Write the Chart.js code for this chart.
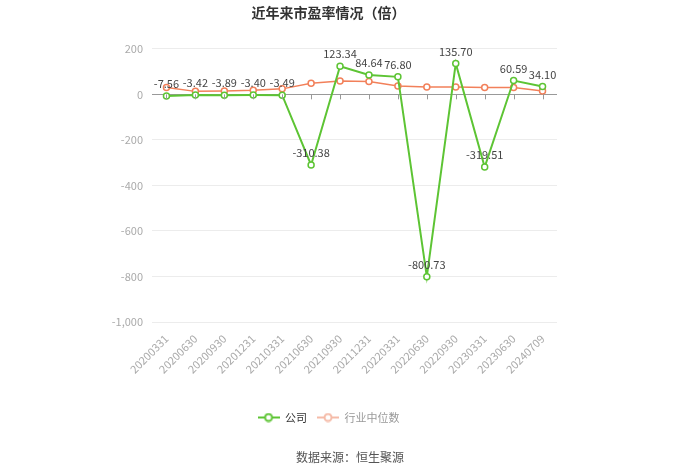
<!DOCTYPE html>
<html>
<head>
<meta charset="utf-8">
<script src="https://cdn.jsdelivr.net/npm/chart.js@4/dist/chart.umd.min.js"></script>
<style>
html,body{margin:0;padding:0;background:#fff;}
#wrap{width:700px;height:474px;}
</style>
</head>
<body>
<div id="wrap"><canvas id="c" width="700" height="474"></canvas></div>
<script>
const categories = ['20200331','20200630','20200930','20201231','20210331','20210630','20210930','20211231','20220331','20220630','20220930','20230331','20230630','20240709'];
const companyPE = [-7.56,-3.42,-3.89,-3.40,-3.49,-310.38,123.34,84.64,76.80,-800.73,135.70,-319.51,60.59,34.10];
const industryPE = [30,13,15,18,24,49,59,56,37,32,32,30,30,15];
const yTicks = [200,0,-200,-400,-600,-800,-1000];

const FONT = '"Noto Sans CJK SC","Noto Sans",sans-serif';
const GREEN = '#5dc434';
const ORANGE = '#f2805a';

function legendIcon(color){
  const cv = document.createElement('canvas');
  cv.width = 22; cv.height = 10;
  const g = cv.getContext('2d');
  g.strokeStyle = color; g.lineWidth = 2;
  g.beginPath(); g.moveTo(0,5); g.lineTo(22,5); g.stroke();
  g.fillStyle = '#fff';
  g.beginPath(); g.arc(11,5,3.5,0,Math.PI*2); g.fill(); g.stroke();
  return cv;
}
const iconA = legendIcon(GREEN);
const iconB = legendIcon('#f5bba8');

const extras = {
  id:'extras',
  afterDatasetsDraw(chart){
    const ctx = chart.ctx;
    const xs = chart.scales.x, ys = chart.scales.y;
    const y0 = ys.getPixelForValue(0);
    ctx.save();
    ctx.strokeStyle = '#999'; ctx.lineWidth = 1;
    for(let i=0;i<categories.length;i++){
      const x = Math.round(xs.getPixelForValue(i))+0.5;
      ctx.beginPath(); ctx.moveTo(x,y0); ctx.lineTo(x,y0+5); ctx.stroke();
    }
    const meta = chart.getDatasetMeta(0);
    ctx.font = '11px '+FONT;
    ctx.fillStyle = '#444';
    ctx.textAlign = 'center'; ctx.textBaseline = 'middle';
    meta.data.forEach((p,i)=>{
      ctx.fillText(companyPE[i].toFixed(2), p.x, p.y-12);
    });
    ctx.restore();
  },
  afterDraw(chart){
    const ctx = chart.ctx;
    ctx.save();
    ctx.font = '12px '+FONT;
    ctx.fillStyle = '#555';
    ctx.textAlign = 'center'; ctx.textBaseline = 'middle';
    ctx.fillText('数据来源：恒生聚源', 350, 457);
    ctx.restore();
  }
};

new Chart(document.getElementById('c'), {
  type:'line',
  data:{
    labels: categories,
    datasets:[
      {label:'公司', data: companyPE, borderColor: GREEN, backgroundColor:'#fff',
       borderWidth:2, pointRadius:3, pointBorderWidth:1.5, pointBackgroundColor:'#fff', pointBorderColor:GREEN, tension:0},
      {label:'行业中位数', data: industryPE, borderColor: ORANGE, backgroundColor:'#fff',
       borderWidth:1.5, pointRadius:3, pointBorderWidth:1.5, pointBackgroundColor:'#fff', pointBorderColor:ORANGE, tension:0}
    ]
  },
  options:{
    responsive:false, animation:false, devicePixelRatio:1,
    layout:{padding:{left:100, right:143, top:0, bottom:41}},
    plugins:{
      title:{display:true, text:'近年来市盈率情况（倍）', color:'#333',
        font:{family:FONT, size:14, weight:'bold'}, padding:{top:4, bottom:28}},
      legend:{position:'bottom',
        labels:{usePointStyle:true, pointStyleWidth:22, font:{family:FONT, size:11}, boxHeight:10, padding:10,
          generateLabels(chart){
            return chart.data.datasets.map((d,i)=>({
              text:d.label, pointStyle: i===0?iconA:iconB, fontColor: i===0?'#333':'#999',
              datasetIndex:i, hidden:false, lineWidth:0, strokeStyle:'transparent', fillStyle:'transparent'
            }));
          }}},
      tooltip:{enabled:false}
    },
    scales:{
      x:{offset:true,
        grid:{display:false},
        border:{display:false},
        ticks:{color:'#aaa', font:{family:FONT,size:11}, minRotation:45, maxRotation:45, autoSkip:false, padding:2},
        afterFit(s){ s.height = 80; }
      },
      y:{min:-1000, max:200,
        afterBuildTicks(s){ s.ticks = yTicks.map(v=>({value:v})); },
        grid:{color:(c)=> c.tick && c.tick.value===0 ? '#999' : '#ececec', drawTicks:false},
        border:{display:false},
        ticks:{color:'#aaa', font:{family:FONT,size:11}, padding:9,
          callback:(v)=> v.toLocaleString('en-US')},
        afterFit(s){ s.width = 52; }
      }
    }
  },
  plugins:[extras]
});
</script>
</body>
</html>
